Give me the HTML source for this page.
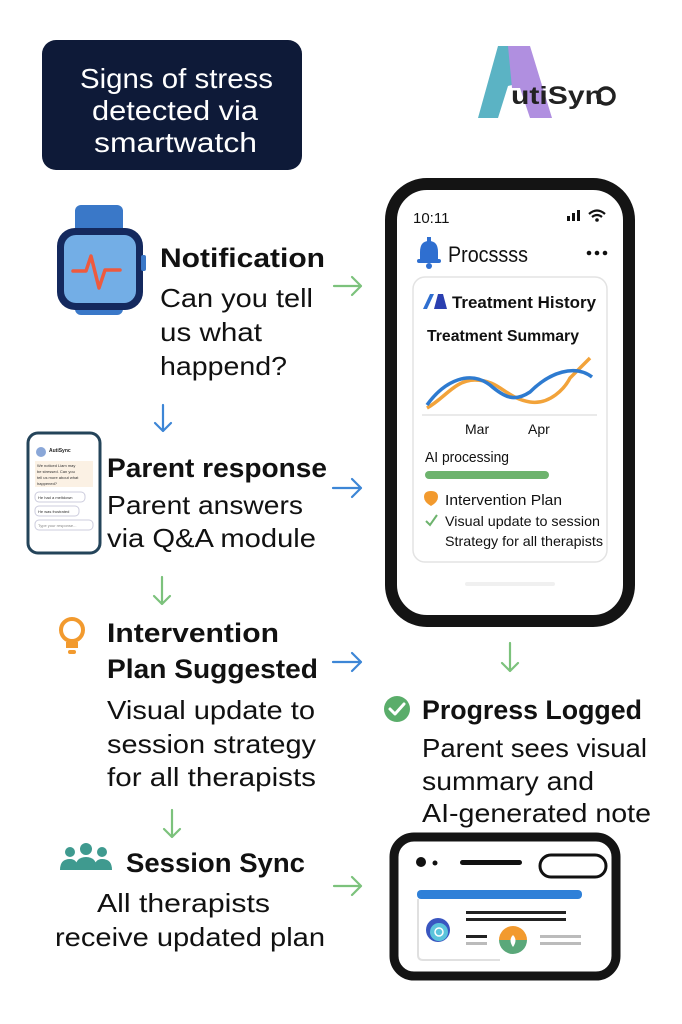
<!DOCTYPE html>
<html><head><meta charset="utf-8"><style>
html,body{margin:0;padding:0;background:#fff;}
svg{display:block;font-family:"Liberation Sans","DejaVu Sans",sans-serif;}
</style></head><body>
<svg width="682" height="1024" viewBox="0 0 682 1024" xmlns="http://www.w3.org/2000/svg">
<defs>
<marker id="ag" viewBox="0 0 10 10" refX="8" refY="5" markerWidth="6" markerHeight="6" orient="auto"><path d="M1 1 L8 5 L1 9" fill="none" stroke="#7cc27c" stroke-width="1.6"/></marker>
</defs>
<!-- Title box -->
<rect x="42" y="40" width="260" height="130" rx="14" fill="#0e1a38"/>
<g fill="#fff" font-size="28" text-anchor="start">
<text x="80" y="88" textLength="193" lengthAdjust="spacingAndGlyphs">Signs of stress</text>
<text x="92" y="120" textLength="166" lengthAdjust="spacingAndGlyphs">detected via</text>
<text x="94" y="152" textLength="163" lengthAdjust="spacingAndGlyphs">smartwatch</text>
</g>
<!-- Logo -->
<path d="M498 46 L522 46 L514 70 Q524 74 516 84 L508 86 L498 118 L478 118 Z" fill="#5bb3c4"/>
<path d="M508 46 L530 46 L552 118 L530 118 L520 88 L512 88 Z" fill="#b08fe0"/>
<text x="511" y="104" font-size="25" font-weight="bold" fill="#222" textLength="92" lengthAdjust="spacingAndGlyphs">utiSyn</text>
<circle cx="606" cy="96" r="8" fill="none" stroke="#222" stroke-width="3.5"/>
<!-- Watch -->
<rect x="75" y="205" width="48" height="110" rx="6" fill="#3a78c8"/>
<rect x="57" y="228" width="86" height="82" rx="18" fill="#14295e"/>
<rect x="64" y="235" width="72" height="68" rx="12" fill="#73aee6"/>
<rect x="141" y="255" width="5" height="16" rx="2" fill="#3a78c8"/>
<path d="M73 271 L86 271 L91 256 L99 288 L105 270 L120 270" fill="none" stroke="#ee5a3e" stroke-width="3.5" stroke-linejoin="round" stroke-linecap="round"/>
<!-- Left texts -->
<g fill="#111">
<text x="160" y="267" font-size="27" font-weight="bold" textLength="165" lengthAdjust="spacingAndGlyphs">Notification</text>
<text x="160" y="307" font-size="26" textLength="153" lengthAdjust="spacingAndGlyphs">Can you tell</text>
<text x="160" y="341" font-size="26" textLength="102" lengthAdjust="spacingAndGlyphs">us what</text>
<text x="160" y="375" font-size="26" textLength="127" lengthAdjust="spacingAndGlyphs">happend?</text>
<text x="107" y="477" font-size="27" font-weight="bold" textLength="220" lengthAdjust="spacingAndGlyphs">Parent response</text>
<text x="107" y="514" font-size="26" textLength="196" lengthAdjust="spacingAndGlyphs">Parent answers</text>
<text x="107" y="547" font-size="26" textLength="209" lengthAdjust="spacingAndGlyphs">via Q&amp;A module</text>
<text x="107" y="642" font-size="27" font-weight="bold" textLength="172" lengthAdjust="spacingAndGlyphs">Intervention</text>
<text x="107" y="678" font-size="27" font-weight="bold" textLength="211" lengthAdjust="spacingAndGlyphs">Plan Suggested</text>
<text x="107" y="719" font-size="26" textLength="208" lengthAdjust="spacingAndGlyphs">Visual update to</text>
<text x="107" y="753" font-size="26" textLength="209" lengthAdjust="spacingAndGlyphs">session strategy</text>
<text x="107" y="786" font-size="26" textLength="209" lengthAdjust="spacingAndGlyphs">for all therapists</text>
<text x="126" y="872" font-size="27" font-weight="bold" textLength="179" lengthAdjust="spacingAndGlyphs">Session Sync</text>
<text x="97" y="912" font-size="26" textLength="173" lengthAdjust="spacingAndGlyphs">All therapists</text>
<text x="55" y="946" font-size="26" textLength="270" lengthAdjust="spacingAndGlyphs">receive updated plan</text>
<text x="422" y="719" font-size="27" font-weight="bold" textLength="220" lengthAdjust="spacingAndGlyphs">Progress Logged</text>
<text x="422" y="757" font-size="26" textLength="225" lengthAdjust="spacingAndGlyphs">Parent sees visual</text>
<text x="422" y="790" font-size="26" textLength="172" lengthAdjust="spacingAndGlyphs">summary and</text>
<text x="422" y="822" font-size="26" textLength="229" lengthAdjust="spacingAndGlyphs">AI-generated note</text>
</g>
<!-- small phone -->
<rect x="28" y="433" width="72" height="120" rx="10" fill="#fff" stroke="#24445a" stroke-width="3"/>
<circle cx="41" cy="452" r="5" fill="#8aa7d8"/>
<text x="49" y="452" font-size="5" font-weight="bold" fill="#222">AutiSync</text>
<rect x="35" y="461" width="58" height="26" fill="#fbf1e4"/>
<g font-size="4" fill="#333"><text x="37" y="467">We noticed Liam may</text><text x="37" y="473">be stressed. Can you</text><text x="37" y="479">tell us more about what</text><text x="37" y="485">happened?</text></g>
<rect x="35" y="492" width="50" height="10" rx="4" fill="#fff" stroke="#ccd"/><text x="38" y="499" font-size="4" fill="#333">He had a meltdown</text>
<rect x="35" y="506" width="44" height="10" rx="4" fill="#fff" stroke="#ccd"/><text x="38" y="513" font-size="4" fill="#333">He was frustrated</text>
<rect x="35" y="520" width="58" height="10" rx="4" fill="#fff" stroke="#ccd"/><text x="38" y="527" font-size="4" fill="#888">Type your response...</text>
<!-- bulb -->
<circle cx="72" cy="630" r="11" fill="none" stroke="#f29a2e" stroke-width="4"/>
<rect x="66" y="642" width="12" height="6" fill="#f29a2e"/><rect x="68" y="650" width="8" height="4" rx="2" fill="#f29a2e"/>
<!-- people -->
<g fill="#3f9a8f">
<circle cx="70" cy="852" r="5"/><circle cx="86" cy="849" r="6"/><circle cx="102" cy="852" r="5"/>
<path d="M60 870 Q60 859 70 859 Q78 859 78 870Z"/><path d="M75 870 Q75 857 86 857 Q97 857 97 870Z"/><path d="M94 870 Q94 859 102 859 Q112 859 112 870Z"/>
</g>
<!-- arrows -->
<g fill="none" stroke-width="2.2" stroke-linecap="round" stroke-linejoin="round">
<path d="M334 286 H361 M352 277 L361 286 L352 295" stroke="#7cc27c"/>
<path d="M333 488 H361 M352 479 L361 488 L352 497" stroke="#3d86d6"/>
<path d="M333 662 H361 M352 653 L361 662 L352 671" stroke="#3d86d6"/>
<path d="M334 886 H361 M352 877 L361 886 L352 895" stroke="#7cc27c"/>
<path d="M163 405 V431 M155 423 L163 431 L171 423" stroke="#3d86d6"/>
<path d="M162 577 V604 M154 596 L162 604 L170 596" stroke="#7cc27c"/>
<path d="M172 810 V837 M164 829 L172 837 L180 829" stroke="#7cc27c"/>
<path d="M510 643 V671 M502 663 L510 671 L518 663" stroke="#7cc27c"/>
</g>
<!-- Big phone -->
<rect x="391" y="184" width="238" height="437" rx="36" fill="#fff" stroke="#141414" stroke-width="12"/>
<text x="413" y="223" font-size="15" fill="#111">10:11</text>
<g fill="#111"><rect x="567" y="216" width="3" height="5"/><rect x="572" y="213" width="3" height="8"/><rect x="577" y="210" width="3" height="11"/></g>
<path d="M589 214 Q597 207 605 214 M592 217 Q597 213 602 217" fill="none" stroke="#111" stroke-width="2.2"/><circle cx="597" cy="220" r="1.8" fill="#111"/>
<path d="M420 262 L420 252 Q420 241 429 241 Q438 241 438 252 L438 262 Z" fill="#2f6fd0"/><rect x="417" y="259" width="24" height="4" rx="2" fill="#2f6fd0"/><circle cx="429" cy="266" r="3" fill="#2f6fd0"/><rect x="427" y="237" width="4" height="5" fill="#2f6fd0"/>
<text x="448" y="262" font-size="22" fill="#111" textLength="80" lengthAdjust="spacingAndGlyphs">Procssss</text>
<g fill="#111"><circle cx="589" cy="253" r="2.3"/><circle cx="597" cy="253" r="2.3"/><circle cx="605" cy="253" r="2.3"/></g>
<rect x="413" y="277" width="194" height="285" rx="12" fill="#fff" stroke="#e3e3e3" stroke-width="1.5"/>
<path d="M423 309 L430 294 L434 294 L427 309Z" fill="#2f6fd0"/><path d="M438 294 L443 294 L447 309 L434 309Z" fill="#2b3fb0"/>
<text x="452" y="308" font-size="17" font-weight="bold" fill="#111" textLength="144" lengthAdjust="spacingAndGlyphs">Treatment History</text>
<text x="427" y="341" font-size="16" font-weight="bold" fill="#111" textLength="152" lengthAdjust="spacingAndGlyphs">Treatment Summary</text>
<path d="M427 408 C445 398 455 380 475 380 C500 380 505 398 530 402 C550 405 565 388 570 378 L590 358" fill="none" stroke="#f2a33a" stroke-width="3.5"/>
<path d="M427 405 C445 380 470 370 490 385 C505 398 515 402 530 392 C550 372 575 364 592 377" fill="none" stroke="#2e7bd0" stroke-width="3.5"/>
<line x1="422" y1="415" x2="597" y2="415" stroke="#ddd" stroke-width="1.2"/>
<text x="465" y="434" font-size="14" fill="#111">Mar</text><text x="528" y="434" font-size="14" fill="#111">Apr</text>
<text x="425" y="462" font-size="15" fill="#111" textLength="84" lengthAdjust="spacingAndGlyphs">AI processing</text>
<rect x="425" y="471" width="124" height="8" rx="4" fill="#6db36d"/>
<path d="M431 506 Q424 502 424 497 Q424 491 431 491 Q438 491 438 497 Q438 502 431 506 L430 512 Z" fill="#f29a2e"/>
<text x="445" y="505" font-size="15" fill="#111" textLength="117" lengthAdjust="spacingAndGlyphs">Intervention Plan</text>
<path d="M426 521 L430 525 L437 515" fill="none" stroke="#6db36d" stroke-width="2"/>
<text x="445" y="526" font-size="14" fill="#111" textLength="155" lengthAdjust="spacingAndGlyphs">Visual update to session</text>
<text x="445" y="546" font-size="14" fill="#111" textLength="158" lengthAdjust="spacingAndGlyphs">Strategy for all therapists</text>
<rect x="465" y="582" width="90" height="4" rx="2" fill="#f0f0f0"/>
<!-- check circle -->
<circle cx="397" cy="709" r="13" fill="#5aad6a"/>
<path d="M390 709 L395 714 L404 704" fill="none" stroke="#fff" stroke-width="3" stroke-linecap="round" stroke-linejoin="round"/>
<!-- bottom card -->
<rect x="394" y="837" width="222" height="139" rx="20" fill="#fff" stroke="#141414" stroke-width="9"/>
<circle cx="421" cy="862" r="5" fill="#111"/><circle cx="435" cy="863" r="2.5" fill="#111"/>
<rect x="460" y="860" width="62" height="5" rx="2.5" fill="#111"/>
<rect x="540" y="855" width="66" height="22" rx="11" fill="none" stroke="#111" stroke-width="3"/>
<rect x="417" y="890" width="165" height="9" rx="4" fill="#2f80d8"/>
<path d="M418 899 V955 Q418 960 423 960 H500" fill="none" stroke="#e0e0e0" stroke-width="2"/>
<circle cx="438" cy="930" r="12" fill="#3956c0"/><circle cx="439" cy="932" r="9" fill="#5cc4dc"/><circle cx="439" cy="932" r="4" fill="none" stroke="#fff" stroke-width="1.5"/>
<rect x="466" y="911" width="100" height="3" fill="#222"/><rect x="466" y="918" width="100" height="3" fill="#222"/>
<rect x="466" y="935" width="21" height="3" fill="#222"/><rect x="466" y="942" width="21" height="3" fill="#bbb"/>
<path d="M499 940 A14 14 0 0 1 527 940 Z" fill="#f29a2e"/><path d="M499 940 A14 14 0 0 0 527 940 Z" fill="#5aa87a"/>
<path d="M513 935 Q518 940 513 947 Q508 940 513 935Z" fill="#fff"/>
<rect x="540" y="935" width="41" height="3" fill="#bbb"/><rect x="540" y="942" width="41" height="3" fill="#bbb"/>
</svg>
</body></html>
